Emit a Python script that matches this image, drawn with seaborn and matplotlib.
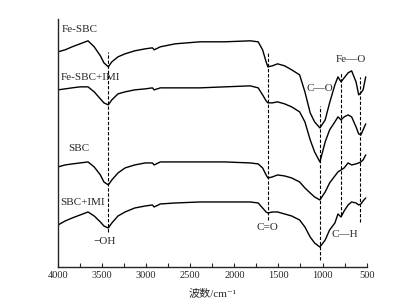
import numpy as np
import pandas as pd
import matplotlib
matplotlib.use("Agg")
import matplotlib.pyplot as plt
import seaborn as sns

# wavenumber grid (cm-1)
wavenumber = [4000, 3920, 3840, 3750, 3660, 3590, 3520, 3480, 3430, 3390,
              3320, 3240, 3130, 3010, 2930, 2910, 2840, 2670, 2390, 2110,
              1820, 1730, 1680, 1640, 1620, 1570, 1510, 1430, 1350, 1260,
              1200, 1140, 1090, 1030, 970, 920, 860, 825, 790, 755,
              710, 670, 620, 590, 565, 540, 510]

# transmittance (a.u., stacked) for each sample
fe_sbc = [215, 217, 220, 223, 226, 220, 211, 204, 200, 205,
          210, 213, 216, 218, 219, 217, 220, 223, 225, 225,
          226, 225, 217, 205, 200, 201, 203, 201, 197, 192,
          175, 154, 145, 139, 147, 164, 182, 190, 185, 189,
          194, 196, 185, 172, 174, 177, 190]
fe_sbc_imi = [177, 178, 179, 180, 180, 175, 168, 164, 162, 167,
              173, 175, 177, 178, 179, 177, 179, 179, 179, 180,
              181, 179, 172, 166, 164, 164, 165, 163, 160, 155,
              145, 127, 115, 105, 125, 137, 145, 150, 147, 150,
              152, 150, 140, 133, 132, 137, 143]
sbc = [100, 102, 103, 104, 105, 100, 92, 85, 82, 87,
       94, 99, 102, 104, 104, 102, 105, 105, 105, 105,
       104, 103, 99, 92, 89, 90, 92, 91, 89, 85,
       79, 74, 70, 67, 75, 84, 91, 95, 97, 99,
       104, 102, 103, 104, 105, 107, 112]
sbc_imi = [42, 46, 49, 52, 55, 51, 45, 41, 39, 44,
           51, 55, 59, 61, 62, 60, 63, 64, 65, 65,
           65, 64, 59, 55, 54, 55, 55, 53, 51, 47,
           40, 30, 24, 20, 27, 37, 44, 53, 50, 56,
           62, 65, 64, 62, 63, 66, 69]

samples = ["Fe-SBC", "Fe-SBC+IMI", "SBC", "SBC+IMI"]

# band positions and dashed marker extents
band_wn = [3430, 1620, 1030, 790, 570]
band_top = [215, 214, 161, 194, 190]
band_bottom = [35, 47, 7, 52, 45]

df = pd.DataFrame({
    "wn": wavenumber * 4,
    "T": fe_sbc + fe_sbc_imi + sbc + sbc_imi,
    "sample": np.repeat(samples, len(wavenumber)),
})

sns.set_style("ticks")
plt.rcParams["font.family"] = ["Liberation Serif", "Noto Sans CJK SC", "DejaVu Serif"]
plt.rcParams["axes.unicode_minus"] = True

fig = plt.figure(figsize=(4.06, 3.08), dpi=100)
ax = fig.add_axes([0.143, 0.133, 0.760, 0.806])

sns.lineplot(data=df, x="wn", y="T", hue="sample", palette=["black"] * 4,
             estimator=None, sort=False, legend=False, lw=1.0, ax=ax)

for w, top, bot in zip(band_wn, band_top, band_bottom):
    ax.plot([w, w], [bot, top], color="black", lw=0.8, ls=(0, (3, 1.6)))

# sample names
ax.text(3955, 237, "Fe-SBC", fontsize=8, va="center", ha="left")
ax.text(3966, 189, "Fe-SBC+IMI", fontsize=8, va="center", ha="left")
ax.text(3887, 118, "SBC", fontsize=8, va="center", ha="left")
ax.text(3977, 64, "SBC+IMI", fontsize=8, va="center", ha="left")

# band assignments
ax.text(3467, 26, "\u2212OH", fontsize=8, va="center", ha="center")
ax.text(1630, 39, "C=O", fontsize=8, va="center", ha="center")
ax.text(1030, 178, "C\u2014O", fontsize=8, va="center", ha="center")
ax.text(746, 33, "C\u2014H", fontsize=8, va="center", ha="center")
ax.text(678, 207, "Fe\u2014O", fontsize=8, va="center", ha="center")

ax.set_xlim(4000, 500)
ax.set_ylim(0, 248)
ax.set_xticks(np.arange(4000, 499, -500))
ax.set_xticks(np.arange(3750, 500, -500), minor=True)
ax.tick_params(axis="x", which="both", direction="in", length=3, width=0.8,
               labelsize=7.5, pad=3)
ax.set_yticks([])
ax.set_ylabel("")
ax.set_xlabel("波数/cm\u207b\u00b9", fontsize=8, labelpad=6)
sns.despine(ax=ax)
for s in ["left", "bottom"]:
    ax.spines[s].set_linewidth(1.0)

fig.savefig("out.png", dpi=100)
